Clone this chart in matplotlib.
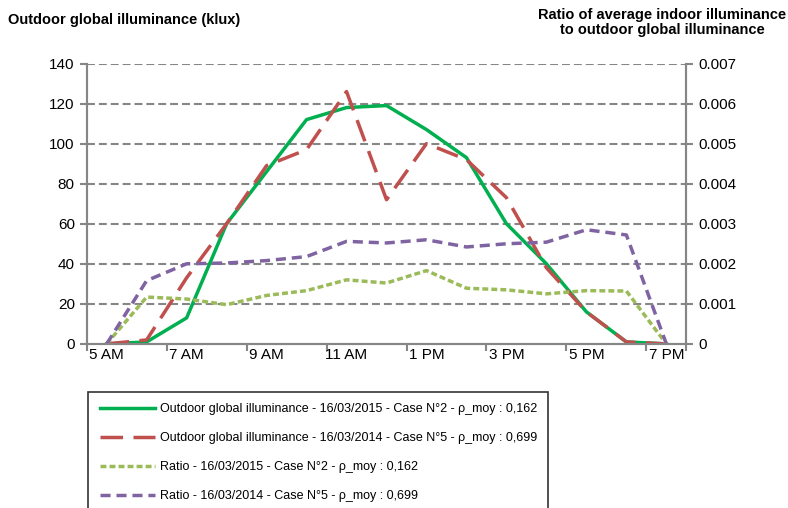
import matplotlib
matplotlib.use("Agg")
import matplotlib.pyplot as plt

plt.rcParams['font.family'] = ['Liberation Sans', 'DejaVu Sans']

hours = list(range(5, 20))
hour_labels = ['5 AM', '7 AM', '9 AM', '11 AM', '1 PM', '3 PM', '5 PM', '7 PM']

# outdoor global illuminance (klux)
outdoor_2015 = [0, 1, 13, 60, 86, 112, 118, 119, 107, 93, 60, 40, 16, 1, 0]
outdoor_2014 = [0, 2, 33, 60, 89, 97, 126, 72, 100, 92, 73, 38, 16, 1, 0]

# ratio indoor / outdoor
ratio_2015 = [0, 0.00117, 0.00112, 0.00098, 0.00121, 0.00133, 0.0016, 0.00152,
              0.00183, 0.00139, 0.00135, 0.00125, 0.00133, 0.00132, 0]
ratio_2014 = [0, 0.00158, 0.002, 0.00202, 0.00208, 0.00218, 0.00256, 0.00252,
              0.0026, 0.00242, 0.0025, 0.00254, 0.00285, 0.00272, 0]

left_ticks = [0, 20, 40, 60, 80, 100, 120, 140]
right_ticks = [0, 0.001, 0.002, 0.003, 0.004, 0.005, 0.006, 0.007]
right_labels = ['0', '0.001', '0.002', '0.003', '0.004', '0.005', '0.006', '0.007']

labels = [
    'Outdoor global illuminance - 16/03/2015 - Case N°2 - ρ_moy : 0,162',
    'Outdoor global illuminance - 16/03/2014 - Case N°5 - ρ_moy : 0,699',
    'Ratio - 16/03/2015 - Case N°2 - ρ_moy : 0,162',
    'Ratio - 16/03/2014 - Case N°5 - ρ_moy : 0,699',
]

fig = plt.figure(figsize=(7.88, 5.08), dpi=100)
ax = fig.add_axes([0.110, 0.323, 0.761, 0.552])
ax2 = ax.twinx()

grey = '#868686'
for y in left_ticks[1:]:
    ax.axhline(y, color=grey, lw=1.5, ls=(0, (3.8, 1.9)), zorder=0)

l1, = ax.plot(hours, outdoor_2015, color='#00B050', lw=2.5, zorder=3)
l2, = ax.plot(hours, outdoor_2014, color='#C0504D', lw=2.5, ls=(0, (6.5, 3)), zorder=3)
l3, = ax2.plot(hours, ratio_2015, color='#9BBB59', lw=2.5, ls=(0, (1.7, 0.9)))
l4, = ax2.plot(hours, ratio_2014, color='#8064A2', lw=2.5, ls=(0, (2.9, 1.7)))

ax.set_xlim(4.5, 19.5)
ax.set_ylim(0, 140)
ax2.set_ylim(0, 0.007)

ax.set_yticks(left_ticks)
ax.set_yticklabels([str(v) for v in left_ticks])
ax2.set_yticks(right_ticks)
ax2.set_yticklabels(right_labels)

ax.set_xticks([h - 0.5 for h in hours[::2]] + [19.5])
ax.set_xticklabels([])
ax.set_xticks(hours[::2], minor=True)
ax.set_xticklabels(hour_labels, minor=True)
ax.tick_params(axis='x', which='major', length=5, width=1.5, color=grey)
ax.tick_params(axis='x', which='minor', length=0, labelsize=11, pad=3)
ax.tick_params(axis='y', length=5, width=1.5, color=grey, labelsize=11)
ax2.tick_params(axis='y', length=5, width=1.5, color=grey, labelsize=11)

for a in (ax, ax2):
    a.spines['top'].set_visible(False)
    for s in ('left', 'right', 'bottom'):
        a.spines[s].set_color(grey)
        a.spines[s].set_linewidth(1.5)

fig.text(0.010, 0.960, 'Outdoor global illuminance (klux)', fontsize=10.5,
         fontweight='bold', ha='left', va='center')
fig.text(0.840, 0.956, 'Ratio of average indoor illuminance\nto outdoor global illuminance',
         fontsize=10.5, fontweight='bold', ha='center', va='center', linespacing=1.1)

leg = fig.legend([l1, l2, l3, l4], labels, loc='upper left',
                 bbox_to_anchor=(0.112, 0.228), bbox_transform=fig.transFigure,
                 borderaxespad=0, frameon=True, fancybox=False, fontsize=9,
                 handlelength=4.4, labelspacing=1.35, borderpad=0.9,
                 handletextpad=0.4)
leg.get_frame().set_edgecolor('black')
leg.get_frame().set_linewidth(1.2)

fig.savefig('out.png', dpi=100)
